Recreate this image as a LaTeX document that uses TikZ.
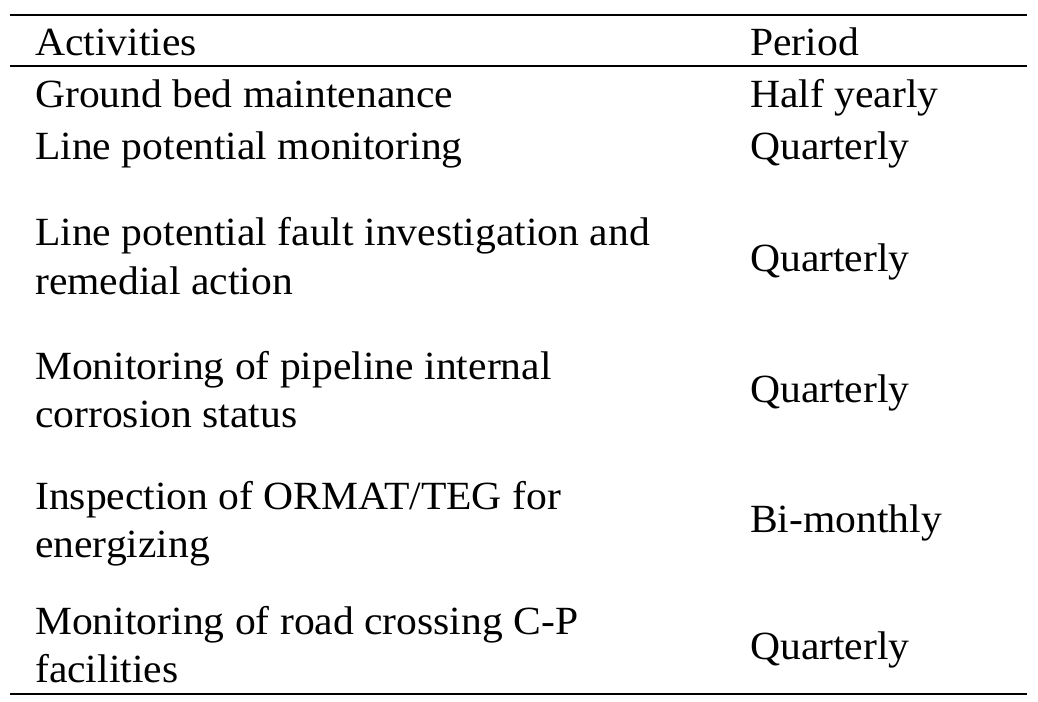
\documentclass[tikz,border=0pt]{standalone}
\usepackage{fontspec}
\setmainfont{Liberation Serif}[FakeStretch=1.04]
\begin{document}
\begin{tikzpicture}[x=1pt,y=-1pt,
  txt/.style={anchor=base west,inner sep=0pt,font=\fontsize{40}{48}\selectfont},
  rule/.style={line width=2.5pt}]
\useasboundingbox (0,0) rectangle (1038,701);
\coordinate (r1a) at (10,15); \coordinate (r1b) at (1027,15);
\coordinate (r2a) at (10,66); \coordinate (r2b) at (1027,66);
\coordinate (r3a) at (10,694); \coordinate (r3b) at (1027,694);
\draw[rule] (r1a) -- (r1b);
\draw[rule] (r2a) -- (r2b);
\draw[rule] (r3a) -- (r3b);
\node[txt] (h1) at (35,56) {Activities};
\node[txt] (h2) at (750,56) {Period};
\node[txt] (a1) at (35,107) {Ground bed maintenance};
\node[txt] (p1) at (750,107) {Half yearly};
\node[txt] (a2) at (35,159) {Line potential monitoring};
\node[txt] (p2) at (750,159) {Quarterly};
\node[txt] (a3) at (35,245) {Line potential fault investigation and};
\node[txt] (a3b) at (35,294) {remedial action};
\node[txt] (p3) at (750,271) {Quarterly};
\node[txt] (a4) at (35,379) {Monitoring of pipeline internal};
\node[txt] (a4b) at (35,427) {corrosion status};
\node[txt] (p4) at (750,402) {Quarterly};
\node[txt] (a5) at (35,509) {Inspection of ORMAT/TEG for};
\node[txt] (a5b) at (35,557) {energizing};
\node[txt] (p5) at (750,532) {Bi-monthly};
\node[txt] (a6) at (35,634) {Monitoring of road crossing C-P};
\node[txt] (a6b) at (35,682) {facilities};
\node[txt] (p6) at (750,659) {Quarterly};
\end{tikzpicture}
\end{document}
